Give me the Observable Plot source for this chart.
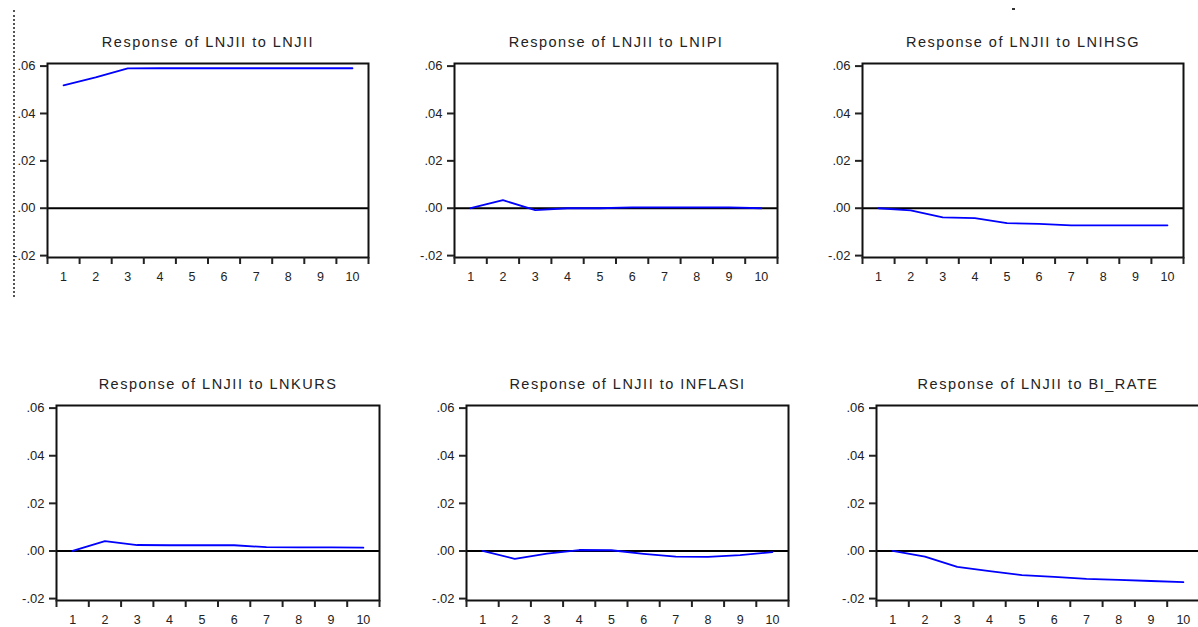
<!DOCTYPE html>
<html>
<head>
<meta charset="utf-8">
<script src="https://cdn.jsdelivr.net/npm/d3@7"></script>
<script src="https://cdn.jsdelivr.net/npm/@observablehq/plot@0.6"></script>
<style>
  html, body { margin: 0; padding: 0; background: #fff; overflow: hidden; width: 1198px; height: 627px; }
  #wrap { position: relative; width: 1198px; height: 627px; overflow: hidden; }
  .panel { position: absolute; }
  .panel svg { max-width: none !important; display: block; }
  .panel svg g[aria-label="text"] text { letter-spacing: 1.5px; }
  .dotted { position: absolute; left: 13px; top: 10px; height: 287px; border-left: 2px dotted #555; }
  .dash { position: absolute; left: 1012px; top: 8px; width: 3px; height: 2px; background: #333; }
</style>
</head>
<body>
<div id="wrap"><div class="dotted"></div><div class="dash"></div></div>
<script>
// ---- data ----
const periods = [1, 2, 3, 4, 5, 6, 7, 8, 9, 10];
const tickEdges = [0.5, 1.5, 2.5, 3.5, 4.5, 5.5, 6.5, 7.5, 8.5, 9.5, 10.5];
const yTicks = [-0.02, 0, 0.02, 0.04, 0.06];

const titles = [
  "Response of LNJII to LNJII",
  "Response of LNJII to LNIPI",
  "Response of LNJII to LNIHSG",
  "Response of LNJII to LNKURS",
  "Response of LNJII to INFLASI",
  "Response of LNJII to BI_RATE"
];

const respLNJII   = [0.0519, 0.0552, 0.0590, 0.0591, 0.0591, 0.0591, 0.0591, 0.0591, 0.0591, 0.0591];
const respLNIPI   = [0.0000, 0.0034, -0.0008, 0.0000, 0.0000, 0.0004, 0.0004, 0.0004, 0.0004, 0.0000];
const respLNIHSG  = [0.0000, -0.0009, -0.0039, -0.0042, -0.0063, -0.0066, -0.0072, -0.0072, -0.0072, -0.0072];
const respLNKURS  = [0.0000, 0.0041, 0.0025, 0.0024, 0.0024, 0.0024, 0.0016, 0.0015, 0.0015, 0.0014];
const respINFLASI = [0.0000, -0.0033, -0.0011, 0.0004, 0.0003, -0.0012, -0.0024, -0.0025, -0.0017, -0.0005];
const respBIRATE  = [0.0000, -0.0024, -0.0067, -0.0085, -0.0101, -0.0109, -0.0117, -0.0121, -0.0126, -0.0131];

const series = [respLNJII, respLNIPI, respLNIHSG, respLNKURS, respINFLASI, respBIRATE];

// ---- layout (frame boxes in page pixels) ----
const boxes = [
  {left: 47,  top: 63,  w: 321, h: 194},
  {left: 454, top: 63,  w: 323, h: 194},
  {left: 862, top: 63,  w: 321, h: 194},
  {left: 56,  top: 405, w: 323, h: 195},
  {left: 466, top: 405, w: 322, h: 195},
  {left: 876, top: 405, w: 323, h: 195}
];

const fmtY = d => d.toFixed(2).replace("0.", ".");
const font = "'Liberation Sans', Arial, Helvetica, sans-serif";
const wrap = document.getElementById("wrap");

titles.forEach((title, i) => {
  const box = boxes[i];
  const data = periods.map((p, j) => ({period: p, value: series[i][j]}));
  const mL = 60, mR = 12, mT = 45, mB = 32;
  const W = box.w + mL + mR, H = box.h + mT + mB;
  const chart = Plot.plot({
    width: W,
    height: H,
    marginLeft: mL, marginRight: mR, marginTop: mT, marginBottom: mB,
    style: {fontFamily: font, background: "transparent", color: "#222", overflow: "visible"},
    x: {domain: [0.5, 10.5], label: null},
    y: {domain: [-0.0208, 0.0611], label: null},
    marks: [
      Plot.ruleY([0], {stroke: "#000", strokeWidth: 1.8}),
      Plot.line(data, {x: "period", y: "value", stroke: "#0000ff", strokeWidth: 1.8}),
      Plot.frame({stroke: "#111", strokeWidth: 2}),
      Plot.axisY(yTicks, {label: null, tickSize: 7, tickPadding: 5, tickFormat: fmtY, fontSize: 13, strokeWidth: 2}),
      Plot.axisX(tickEdges, {label: null, tickSize: 7, tickFormat: () => "", strokeWidth: 2}),
      Plot.axisX(periods, {label: null, tickSize: 0, tickPadding: 15, fontSize: 12.5}),
      Plot.text([title], {frameAnchor: "top", dy: -27, fontSize: 14.5, fill: "#222"})
    ]
  });
  const div = document.createElement("div");
  div.className = "panel";
  div.style.left = (box.left - mL) + "px";
  div.style.top = (box.top - mT) + "px";
  div.style.width = W + "px";
  div.style.height = H + "px";
  div.appendChild(chart);
  wrap.appendChild(div);
});
</script>
</body>
</html>
